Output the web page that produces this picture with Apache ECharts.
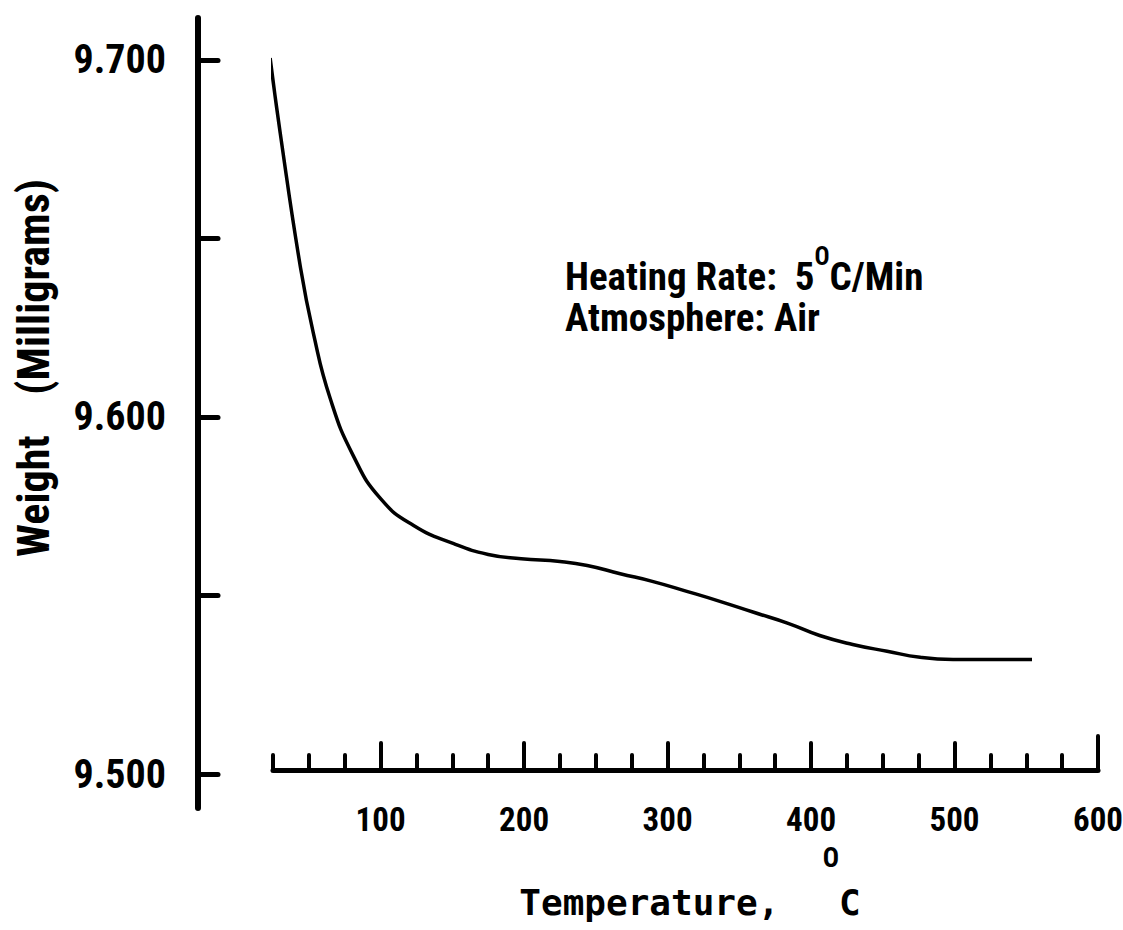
<!DOCTYPE html>
<html>
<head>
<meta charset="utf-8">
<script src="https://cdn.jsdelivr.net/npm/echarts@6/dist/echarts.min.js"></script>
<style>
html,body{margin:0;padding:0;background:#fff;}
#chart{width:1123px;height:930px;}
</style>
</head>
<body>
<div id="chart"></div>
<script>
// Data (temperature °C, weight mg)
const temps   = [23, 30, 44, 53, 65, 81, 100, 123, 151, 175, 198, 225, 244, 267, 290, 314, 337, 360, 384, 406, 429, 453, 476, 499, 523, 554];
const weights = [9.7005, 9.6796, 9.6422, 9.6237, 9.6050, 9.5891, 9.5771, 9.5696, 9.5645, 9.5615, 9.5603, 9.5595, 9.5584, 9.5561, 9.5539, 9.5511, 9.5483, 9.5453, 9.5422, 9.5388, 9.5363, 9.5344, 9.5327, 9.5321, 9.5321, 9.5321];

// Axis ticks / labels
const xMinorTicks = [25, 50, 75, 100, 125, 150, 175, 200, 225, 250, 275, 300, 325, 350, 375, 400, 425, 450, 475, 500, 525, 550, 575];
const xMajorTicks = [100, 200, 300, 400, 500];
const xEndTicks   = [600];
const xLabels     = [100, 200, 300, 400, 500, 600];
const yTicks      = [9.50, 9.55, 9.60, 9.65, 9.70];
const yLabels     = [9.50, 9.60, 9.70];

const FONT = '"Roboto Condensed", "Liberation Sans Narrow", "DejaVu Sans Condensed", "DejaVu Sans", sans-serif';

const chart = echarts.init(document.getElementById('chart'), null, {renderer: 'svg'});

const xCommon = {
  type: 'value', min: 25, max: 600, position: 'bottom', offset: -38,
  splitLine: {show: false}
};
const tickStyle = {color: '#000', width: 4, cap: 'round'};

chart.setOption({
  backgroundColor: '#ffffff',
  animation: false,
  grid: {left: 273, right: 25, top: 18, bottom: 122, containLabel: false, outerBoundsMode: 'none'},
  xAxis: [
    Object.assign({}, xCommon, {
      axisLine: {show: true, lineStyle: {color: '#000', width: 5, cap: 'round'}},
      axisTick: {show: true, inside: true, length: 15, lineStyle: tickStyle, customValues: xMinorTicks},
      axisLabel: {show: true, customValues: xLabels, margin: 33, color: '#000', fontFamily: FONT, fontWeight: 'bold', fontSize: 33}
    }),
    Object.assign({}, xCommon, {
      axisLine: {show: false},
      axisTick: {show: true, inside: true, length: 27, lineStyle: tickStyle, customValues: xMajorTicks},
      axisLabel: {show: false}
    }),
    Object.assign({}, xCommon, {
      axisLine: {show: false},
      axisTick: {show: true, inside: true, length: 34, lineStyle: tickStyle, customValues: xEndTicks},
      axisLabel: {show: false}
    })
  ],
  yAxis: {
    type: 'value', min: 9.4905, max: 9.7117, position: 'left', offset: 75,
    splitLine: {show: false},
    axisLine: {show: true, lineStyle: {color: '#000', width: 6, cap: 'round'}},
    axisTick: {show: true, inside: true, length: 20, lineStyle: {color: '#000', width: 5, cap: 'round'}, customValues: yTicks},
    axisLabel: {show: true, customValues: yLabels, margin: 32, color: '#000', fontFamily: FONT, fontWeight: 'bold', fontSize: 40,
      formatter: v => v.toFixed(3)}
  },
  series: [{
    type: 'line',
    xAxisIndex: 0,
    data: temps.map((t, i) => [t, weights[i]]),
    smooth: 0.5,
    showSymbol: false,
    lineStyle: {color: '#000', width: 3.5}
  }],
  graphic: [
    {
      type: 'text', x: 34, y: 368, rotation: Math.PI / 2,
      style: {text: 'Weight    (Milligrams)', align: 'center', verticalAlign: 'middle',
        font: 'bold 44px ' + FONT, fill: '#000'}
    },
    {
      type: 'text', x: 690, y: 920,
      style: {
        text: '{m|Temperature,  }{s|O}{m|C}',
        align: 'center', verticalAlign: 'bottom',
        rich: {
          m: {font: 'bold 36px "DejaVu Sans Mono", monospace', fill: '#000', lineHeight: 76, verticalAlign: 'bottom'},
          s: {font: 'bold 27px ' + FONT, fill: '#000', lineHeight: 76, verticalAlign: 'top'}
        }
      }
    },
    {
      type: 'text', x: 565, y: 244,
      style: {
        text: '{m|Heating Rate:  5}{s|O}{m|C/Min}',
        align: 'left', verticalAlign: 'top',
        rich: {
          m: {font: 'bold 39px ' + FONT, fill: '#000', lineHeight: 40, verticalAlign: 'bottom'},
          s: {font: 'bold 25px ' + FONT, fill: '#000', lineHeight: 52, verticalAlign: 'top'}
        }
      }
    },
    {
      type: 'text', x: 565, y: 301,
      style: {
        text: 'Atmosphere: Air',
        align: 'left', verticalAlign: 'top', lineHeight: 34,
        font: 'bold 39px ' + FONT, fill: '#000'
      }
    }
  ]
});
</script>
</body>
</html>
